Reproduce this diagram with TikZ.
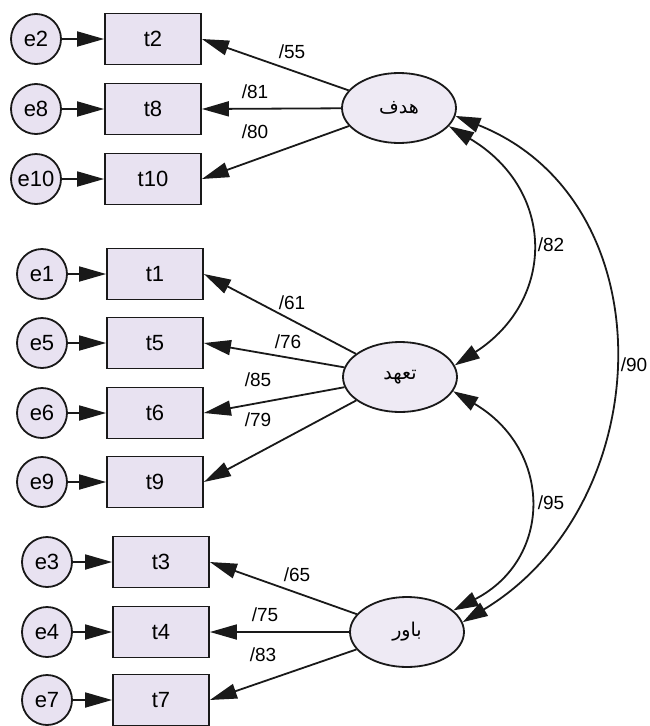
\documentclass[tikz,border=0pt]{standalone}
\usepackage{fontspec}
\setmainfont{Liberation Sans}
\newfontfamily\arabicfont[Script=Arabic]{DejaVu Sans}
\TeXXeTstate=1
\usetikzlibrary{shapes.geometric,arrows.meta}
\definecolor{boxfill}{RGB}{232,226,241}
\definecolor{latfill}{RGB}{238,234,244}
\definecolor{inkc}{RGB}{25,25,25}
\begin{document}
\begin{tikzpicture}[x=1pt,y=1pt,
  errc/.style={circle,draw=inkc,line width=1.8pt,fill=boxfill,minimum size=50pt,inner sep=0pt,font=\fontsize{22}{22}\selectfont},
  obsbox/.style={rectangle,draw=inkc,line width=1.8pt,fill=boxfill,minimum width=96pt,minimum height=51pt,inner sep=0pt,font=\fontsize{22}{22}\selectfont},
  latent/.style={ellipse,draw=inkc,line width=1.8pt,fill=latfill,minimum width=114pt,minimum height=70pt,inner sep=0pt,font=\fontsize{19}{19}\selectfont\arabicfont},
  patharrow/.style={draw=inkc,line width=1.8pt,-{Triangle[length=27pt,width=15pt]}},
  covarrow/.style={draw=inkc,line width=1.8pt,{Triangle[length=25pt,width=15pt]}-{Triangle[length=25pt,width=15pt]}},
  coef/.style={font=\fontsize{19}{19}\selectfont,inner sep=0pt}
]
\useasboundingbox (0,0) rectangle (649,-726);
\fill[white] (0,0) rectangle (649,-726);

% latent variables
\node[latent] (h) at (399,-108) {\beginR هدف\endR};
\node[latent] (c) at (400,-377) {\beginR تعهد\endR};
\node[latent] (b) at (407,-632) {\beginR باور\endR};

% top group
\node[errc] (e2) at (36,-39) {e2};
\node[errc] (e8) at (36,-109) {e8};
\node[errc] (e10) at (36,-179) {e10};
\node[obsbox] (t2) at (153,-39) {t2};
\node[obsbox] (t8) at (153,-109) {t8};
\node[obsbox] (t10) at (153,-179) {t10};

% middle group
\node[errc] (e1) at (42,-274) {e1};
\node[errc] (e5) at (42,-343) {e5};
\node[errc] (e6) at (42,-413) {e6};
\node[errc] (e9) at (42,-482) {e9};
\node[obsbox] (t1) at (155,-274) {t1};
\node[obsbox] (t5) at (155,-343) {t5};
\node[obsbox] (t6) at (155,-413) {t6};
\node[obsbox] (t9) at (155,-482) {t9};

% bottom group
\node[errc] (e3) at (47,-562) {e3};
\node[errc] (e4) at (47,-632) {e4};
\node[errc] (e7) at (47,-700) {e7};
\node[obsbox] (t3) at (161,-562) {t3};
\node[obsbox] (t4) at (161,-632) {t4};
\node[obsbox] (t7) at (161,-700) {t7};

% error arrows
\foreach \a/\b in {e2/t2,e8/t8,e10/t10,e1/t1,e5/t5,e6/t6,e9/t9,e3/t3,e4/t4,e7/t7}
  \draw[patharrow] (\a) -- (\b);

% loadings
\foreach \t in {t2,t8,t10} \draw[patharrow] (h) -- (\t.east);
\foreach \t in {t1,t5,t6,t9} \draw[patharrow] (c) -- (\t.east);
\foreach \t in {t3,t4,t7} \draw[patharrow] (b) -- (\t.east);

% covariances
\draw[covarrow] (h.-20) .. controls (556,-190) and (556,-300) .. (c.12);
\draw[covarrow] (c.-15) .. controls (553,-450) and (553,-559) .. (b.25);
\draw[covarrow] (h.-8) .. controls (669,-201) and (659,-504) .. (b.10);

% coefficients
\node[coef] (l55) at (292,-52) {/55};
\node[coef] (l81) at (255,-92) {/81};
\node[coef] (l80) at (255,-132) {/80};
\node[coef] (l61) at (292,-303) {/61};
\node[coef] (l76) at (288,-342) {/76};
\node[coef] (l85) at (258,-380) {/85};
\node[coef] (l79) at (258,-420) {/79};
\node[coef] (l65) at (297,-575) {/65};
\node[coef] (l75) at (265,-615) {/75};
\node[coef] (l83) at (263,-655) {/83};
\node[coef] (l82) at (551,-245) {/82};
\node[coef] (l90) at (634,-365) {/90};
\node[coef] (l95) at (551,-503) {/95};
\end{tikzpicture}
\end{document}
